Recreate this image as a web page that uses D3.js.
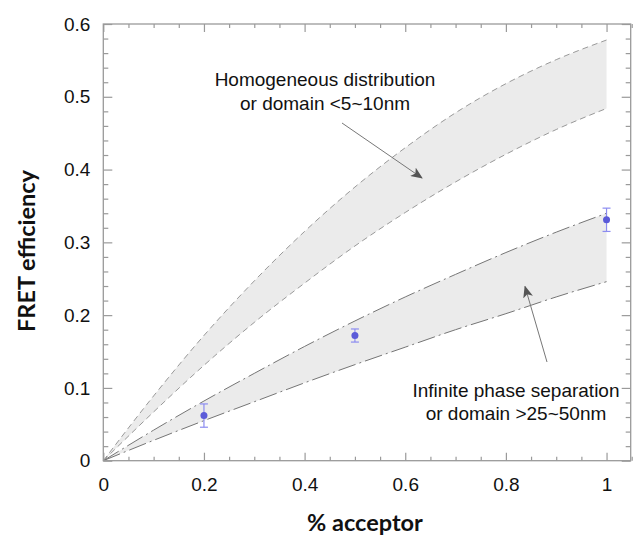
<!DOCTYPE html>
<html>
<head>
<meta charset="utf-8">
<script src="https://cdn.jsdelivr.net/npm/d3@7"></script>
<style>
  html, body { margin: 0; padding: 0; background: #fff; }
  svg { display: block; }
</style>
</head>
<body>
<svg id="chart" width="634" height="538"></svg>
<script>
// ---- data ----
const xs = [0, 0.1, 0.2, 0.3, 0.4, 0.5, 0.6, 0.7, 0.8, 0.9, 1.0];
// Homogeneous distribution band (upper / lower boundary)
const homUpper = [0, 0.089, 0.172, 0.247, 0.315, 0.376, 0.430, 0.478, 0.518, 0.551, 0.578];
const homLower = [0, 0.067, 0.131, 0.190, 0.244, 0.295, 0.341, 0.383, 0.421, 0.455, 0.484];
// Infinite phase separation band (upper / lower boundary)
const sepUpper = [0, 0.042, 0.082, 0.120, 0.157, 0.192, 0.225, 0.256, 0.286, 0.314, 0.340];
const sepLower = [0, 0.028, 0.055, 0.081, 0.107, 0.132, 0.156, 0.180, 0.202, 0.225, 0.246];
// measured points
const ptX = [0.2, 0.5, 1.0];
const ptY = [0.062, 0.172, 0.331];
const ptErr = [0.016, 0.009, 0.016];
// ticks
const xMajor = [0, 0.2, 0.4, 0.6, 0.8, 1];
const xMinor = [0.05, 0.1, 0.15, 0.25, 0.3, 0.35, 0.45, 0.5, 0.55, 0.65, 0.7, 0.75, 0.85, 0.9, 0.95, 1.05];
const yMajor = [0, 0.1, 0.2, 0.3, 0.4, 0.5, 0.6];
const yMinor = [0.02, 0.04, 0.06, 0.08, 0.12, 0.14, 0.16, 0.18, 0.22, 0.24, 0.26, 0.28,
                0.32, 0.34, 0.36, 0.38, 0.42, 0.44, 0.46, 0.48, 0.52, 0.54, 0.56, 0.58];
const xTitle = "% acceptor";
const yTitle = "FRET efficiency";
const note1 = ["Homogeneous distribution", "or domain <5~10nm"];
const note2 = ["Infinite phase separation", "or domain >25~50nm"];

// ---- layout ----
const L = 103.3, R = 630.7, T = 24, B = 460.7;
const x = d3.scaleLinear().domain([0, 1.048]).range([L, R]);
const y = d3.scaleLinear().domain([0, 0.6]).range([B, T]);

const svg = d3.select("#chart");
const axisColor = "#9a9a9a";
const tickFont = "'Liberation Sans', Arial, sans-serif";

const defs = svg.append("defs");
defs.append("marker").attr("id", "arr").attr("viewBox", "0 0 12 10")
  .attr("refX", 11).attr("refY", 5).attr("markerWidth", 12).attr("markerHeight", 10)
  .attr("markerUnits", "userSpaceOnUse").attr("orient", "auto")
  .append("path").attr("d", "M0,0 L12,5 L0,10 L3,5 Z").attr("fill", "#555");

const hom = xs.map((v, i) => ({x: v, hi: homUpper[i], lo: homLower[i]}));
const sep = xs.map((v, i) => ({x: v, hi: sepUpper[i], lo: sepLower[i]}));
const curve = d3.curveMonotoneX;
const area = d3.area().x(d => x(d.x)).y0(d => y(d.lo)).y1(d => y(d.hi)).curve(curve);
const lineHi = d3.line().x(d => x(d.x)).y(d => y(d.hi)).curve(curve);
const lineLo = d3.line().x(d => x(d.x)).y(d => y(d.lo)).curve(curve);

svg.append("path").datum(hom).attr("d", area).attr("fill", "#ebebeb");
svg.append("path").datum(sep).attr("d", area).attr("fill", "#ebebeb");

[lineHi, lineLo].forEach(l => {
  svg.append("path").datum(hom).attr("d", l).attr("fill", "none")
    .attr("stroke", "#999").attr("stroke-width", 1).attr("stroke-dasharray", "6,4");
  svg.append("path").datum(sep).attr("d", l).attr("fill", "none")
    .attr("stroke", "#666").attr("stroke-width", 0.9).attr("stroke-dasharray", "18,4,2,4");
});

// ---- axes ----
function styleAxis(g) {
  g.select(".domain").remove();
  g.selectAll("line").attr("stroke", axisColor).attr("stroke-width", 1.2);
  g.selectAll("text").attr("font-family", tickFont).attr("font-size", 19).attr("fill", "#111");
}
const fmt = d => d3.format("~g")(d);
svg.append("g").attr("transform", `translate(0,${B})`)
  .call(d3.axisBottom(x).tickValues(xMajor).tickSize(-8).tickPadding(17).tickFormat(fmt)).call(styleAxis);
svg.append("g").attr("transform", `translate(0,${B})`)
  .call(d3.axisBottom(x).tickValues(xMinor).tickSize(-4).tickFormat("")).call(styleAxis);
svg.append("g").attr("transform", `translate(0,${T})`)
  .call(d3.axisTop(x).tickValues(xMajor).tickSize(-8).tickFormat("")).call(styleAxis);
svg.append("g").attr("transform", `translate(0,${T})`)
  .call(d3.axisTop(x).tickValues(xMinor).tickSize(-4).tickFormat("")).call(styleAxis);
svg.append("g").attr("transform", `translate(${L},0)`)
  .call(d3.axisLeft(y).tickValues(yMajor).tickSize(-9).tickPadding(13).tickFormat(fmt)).call(styleAxis);
svg.append("g").attr("transform", `translate(${L},0)`)
  .call(d3.axisLeft(y).tickValues(yMinor).tickSize(-5).tickFormat("")).call(styleAxis);
svg.append("g").attr("transform", `translate(${R},0)`)
  .call(d3.axisRight(y).tickValues(yMajor).tickSize(-9).tickFormat("")).call(styleAxis);
svg.append("g").attr("transform", `translate(${R},0)`)
  .call(d3.axisRight(y).tickValues(yMinor).tickSize(-5).tickFormat("")).call(styleAxis);

svg.append("rect").attr("x", L).attr("y", T).attr("width", R - L).attr("height", B - T)
  .attr("fill", "none").attr("stroke", axisColor).attr("stroke-width", 1.3);

// ---- titles ----
const titleFont = "Lato, 'Open Sans', sans-serif";
svg.append("text").attr("x", 365).attr("y", 531).attr("text-anchor", "middle")
  .attr("font-family", titleFont).attr("font-weight", "bold").attr("font-size", 23.5)
  .attr("fill", "#111").text(xTitle);
svg.append("text").attr("transform", "translate(35,251) rotate(-90)").attr("text-anchor", "middle")
  .attr("font-family", titleFont).attr("font-weight", "bold").attr("font-size", 23.5)
  .attr("fill", "#111").text(yTitle);

// ---- annotations ----
function note(lines, cx, y0, dy) {
  const t = svg.append("text").attr("font-family", tickFont).attr("font-size", 19)
    .attr("fill", "#111").attr("text-anchor", "middle");
  lines.forEach((s, i) => t.append("tspan").attr("x", cx).attr("y", y0 + i * dy).text(s));
}
note(note1, 325, 85.7, 24.3);
note(note2, 516, 396.7, 23.3);

svg.append("line").attr("x1", 342).attr("y1", 123).attr("x2", 422).attr("y2", 178)
  .attr("stroke", "#777").attr("stroke-width", 1).attr("marker-end", "url(#arr)");
svg.append("line").attr("x1", 547).attr("y1", 362).attr("x2", 525).attr("y2", 286.5)
  .attr("stroke", "#777").attr("stroke-width", 1).attr("marker-end", "url(#arr)");

// ---- points with error bars ----
const pts = ptX.map((v, i) => ({x: v, y: ptY[i], e: ptErr[i]}));
const eb = svg.append("g").attr("stroke", "#8c8cf0").attr("stroke-width", 1.2);
pts.forEach(p => {
  eb.append("line").attr("x1", x(p.x)).attr("x2", x(p.x)).attr("y1", y(p.y - p.e)).attr("y2", y(p.y + p.e));
  eb.append("line").attr("x1", x(p.x) - 4).attr("x2", x(p.x) + 4).attr("y1", y(p.y - p.e)).attr("y2", y(p.y - p.e));
  eb.append("line").attr("x1", x(p.x) - 4).attr("x2", x(p.x) + 4).attr("y1", y(p.y + p.e)).attr("y2", y(p.y + p.e));
});
svg.append("g").selectAll("circle").data(pts).join("circle")
  .attr("cx", d => x(d.x)).attr("cy", d => y(d.y)).attr("r", 3.5).attr("fill", "#5a5ad8");
</script>
</body>
</html>
